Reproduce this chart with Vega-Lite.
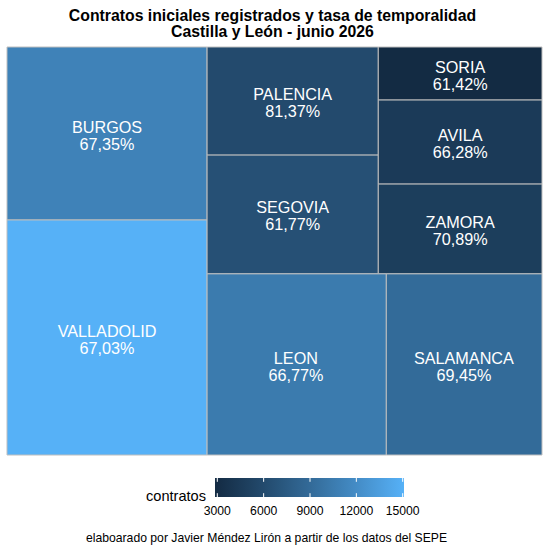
{"$schema":"https://vega.github.io/schema/vega-lite/v6.json","padding":{"left":6,"top":7,"right":0,"bottom":60},"background":"white","bounds":"flush","spacing":23,"resolve":{"scale":{"fill":"independent"},"legend":{"fill":"independent"}},"config":{"view":{"stroke":null},"font":"Liberation Sans"},"title":{"text":["Contratos iniciales registrados y tasa de temporalidad","Castilla y León - junio 2026"],"font":"Liberation Sans","fontSize":15.8,"fontWeight":"bold","color":"black","anchor":"middle","frame":"group","dx":-2,"offset":6,"lineHeight":16},"vconcat":[{"width":535,"height":408,"resolve":{"axis":{"x":"independent"}},"data":{"values":[{"provincia":"BURGOS","tasa":"67,35%","contratos":11100,"x0":0,"x1":37.4,"y0":0,"y1":42.4,"xc":18.7,"yc":21.6},{"provincia":"VALLADOLID","tasa":"67,03%","contratos":15085,"x0":0,"x1":37.4,"y0":42.4,"y1":100,"xc":18.7,"yc":71.6},{"provincia":"PALENCIA","tasa":"81,37%","contratos":5960,"x0":37.4,"x1":69.4,"y0":0,"y1":26.5,"xc":53.4,"yc":13.6},{"provincia":"SEGOVIA","tasa":"61,77%","contratos":6570,"x0":37.4,"x1":69.4,"y0":26.5,"y1":55.6,"xc":53.4,"yc":41.4},{"provincia":"SORIA","tasa":"61,42%","contratos":2850,"x0":69.4,"x1":100,"y0":0,"y1":13,"xc":84.7,"yc":6.9},{"provincia":"AVILA","tasa":"66,28%","contratos":4430,"x0":69.4,"x1":100,"y0":13,"y1":33.6,"xc":84.7,"yc":23.7},{"provincia":"ZAMORA","tasa":"70,89%","contratos":4750,"x0":69.4,"x1":100,"y0":33.6,"y1":55.6,"xc":84.7,"yc":45},{"provincia":"LEON","tasa":"66,77%","contratos":10450,"x0":37.4,"x1":70.9,"y0":55.6,"y1":100,"xc":54,"yc":78.2},{"provincia":"SALAMANCA","tasa":"69,45%","contratos":9060,"x0":70.9,"x1":100,"y0":55.6,"y1":100,"xc":85.4,"yc":78.2}]},"layer":[{"mark":{"type":"rect","stroke":"#BEBEBE","strokeWidth":1},"encoding":{"x":{"field":"x0","type":"quantitative","scale":{"domain":[0,100],"nice":false,"zero":false},"axis":{"title":"elaboarado por Javier Méndez Lirón a partir de los datos del SEPE","titleFont":"Liberation Sans","titleFontSize":12.2,"titleFontWeight":"normal","titleColor":"black","domain":false,"ticks":false,"labels":false,"grid":false,"titleX":259,"titleY":86,"titleBaseline":"alphabetic"}},"x2":{"field":"x1"},"y":{"field":"y0","type":"quantitative","scale":{"domain":[100,0],"nice":false,"zero":false},"axis":null},"y2":{"field":"y1"},"fill":{"field":"contratos","type":"quantitative","scale":{"domain":[2850,15085],"range":["#132B43","#56B1F7"],"interpolate":"lab"},"legend":{"orient":"none","direction":"horizontal","legendX":139,"legendY":431,"title":"contratos","titleOrient":"left","titleFont":"Liberation Sans","titleFontSize":14.6,"titleFontWeight":"normal","titleColor":"black","titleAnchor":"end","titleBaseline":"middle","titlePadding":8,"values":[3000,6000,9000,12000,15000],"format":"d","gradientLength":189,"gradientThickness":19,"gradientStrokeWidth":0,"labelFont":"Liberation Sans","labelFontSize":12.2,"labelColor":"black","labelOffset":8}}}},{"mark":{"type":"text","color":"white","font":"Liberation Sans","fontSize":16.2,"lineBreak":"\n","lineHeight":17,"align":"center","baseline":"middle","dy":-7.5},"transform":[{"calculate":"datum.provincia + '\\n' + datum.tasa","as":"etiqueta"}],"encoding":{"x":{"field":"xc","type":"quantitative","scale":{"domain":[0,100],"nice":false,"zero":false},"axis":null},"y":{"field":"yc","type":"quantitative","scale":{"domain":[100,0],"nice":false,"zero":false},"axis":null},"text":{"field":"etiqueta","type":"nominal"}}}]},{"width":535,"height":19,"data":{"values":[{"marca":3000,"a":0,"b":0.2},{"marca":3000,"a":0.8,"b":1},{"marca":6000,"a":0,"b":0.2},{"marca":6000,"a":0.8,"b":1},{"marca":9000,"a":0,"b":0.2},{"marca":9000,"a":0.8,"b":1},{"marca":12000,"a":0,"b":0.2},{"marca":12000,"a":0.8,"b":1},{"marca":15000,"a":0,"b":0.2},{"marca":15000,"a":0.8,"b":1}]},"mark":{"type":"rule","color":"white","strokeWidth":1},"encoding":{"x":{"field":"marca","type":"quantitative","scale":{"domain":[3000,15000],"range":[210.3,395.7],"nice":false,"zero":false},"axis":null},"y":{"field":"a","type":"quantitative","scale":{"domain":[0,1],"nice":false,"zero":false},"axis":null},"y2":{"field":"b"}}}]}
